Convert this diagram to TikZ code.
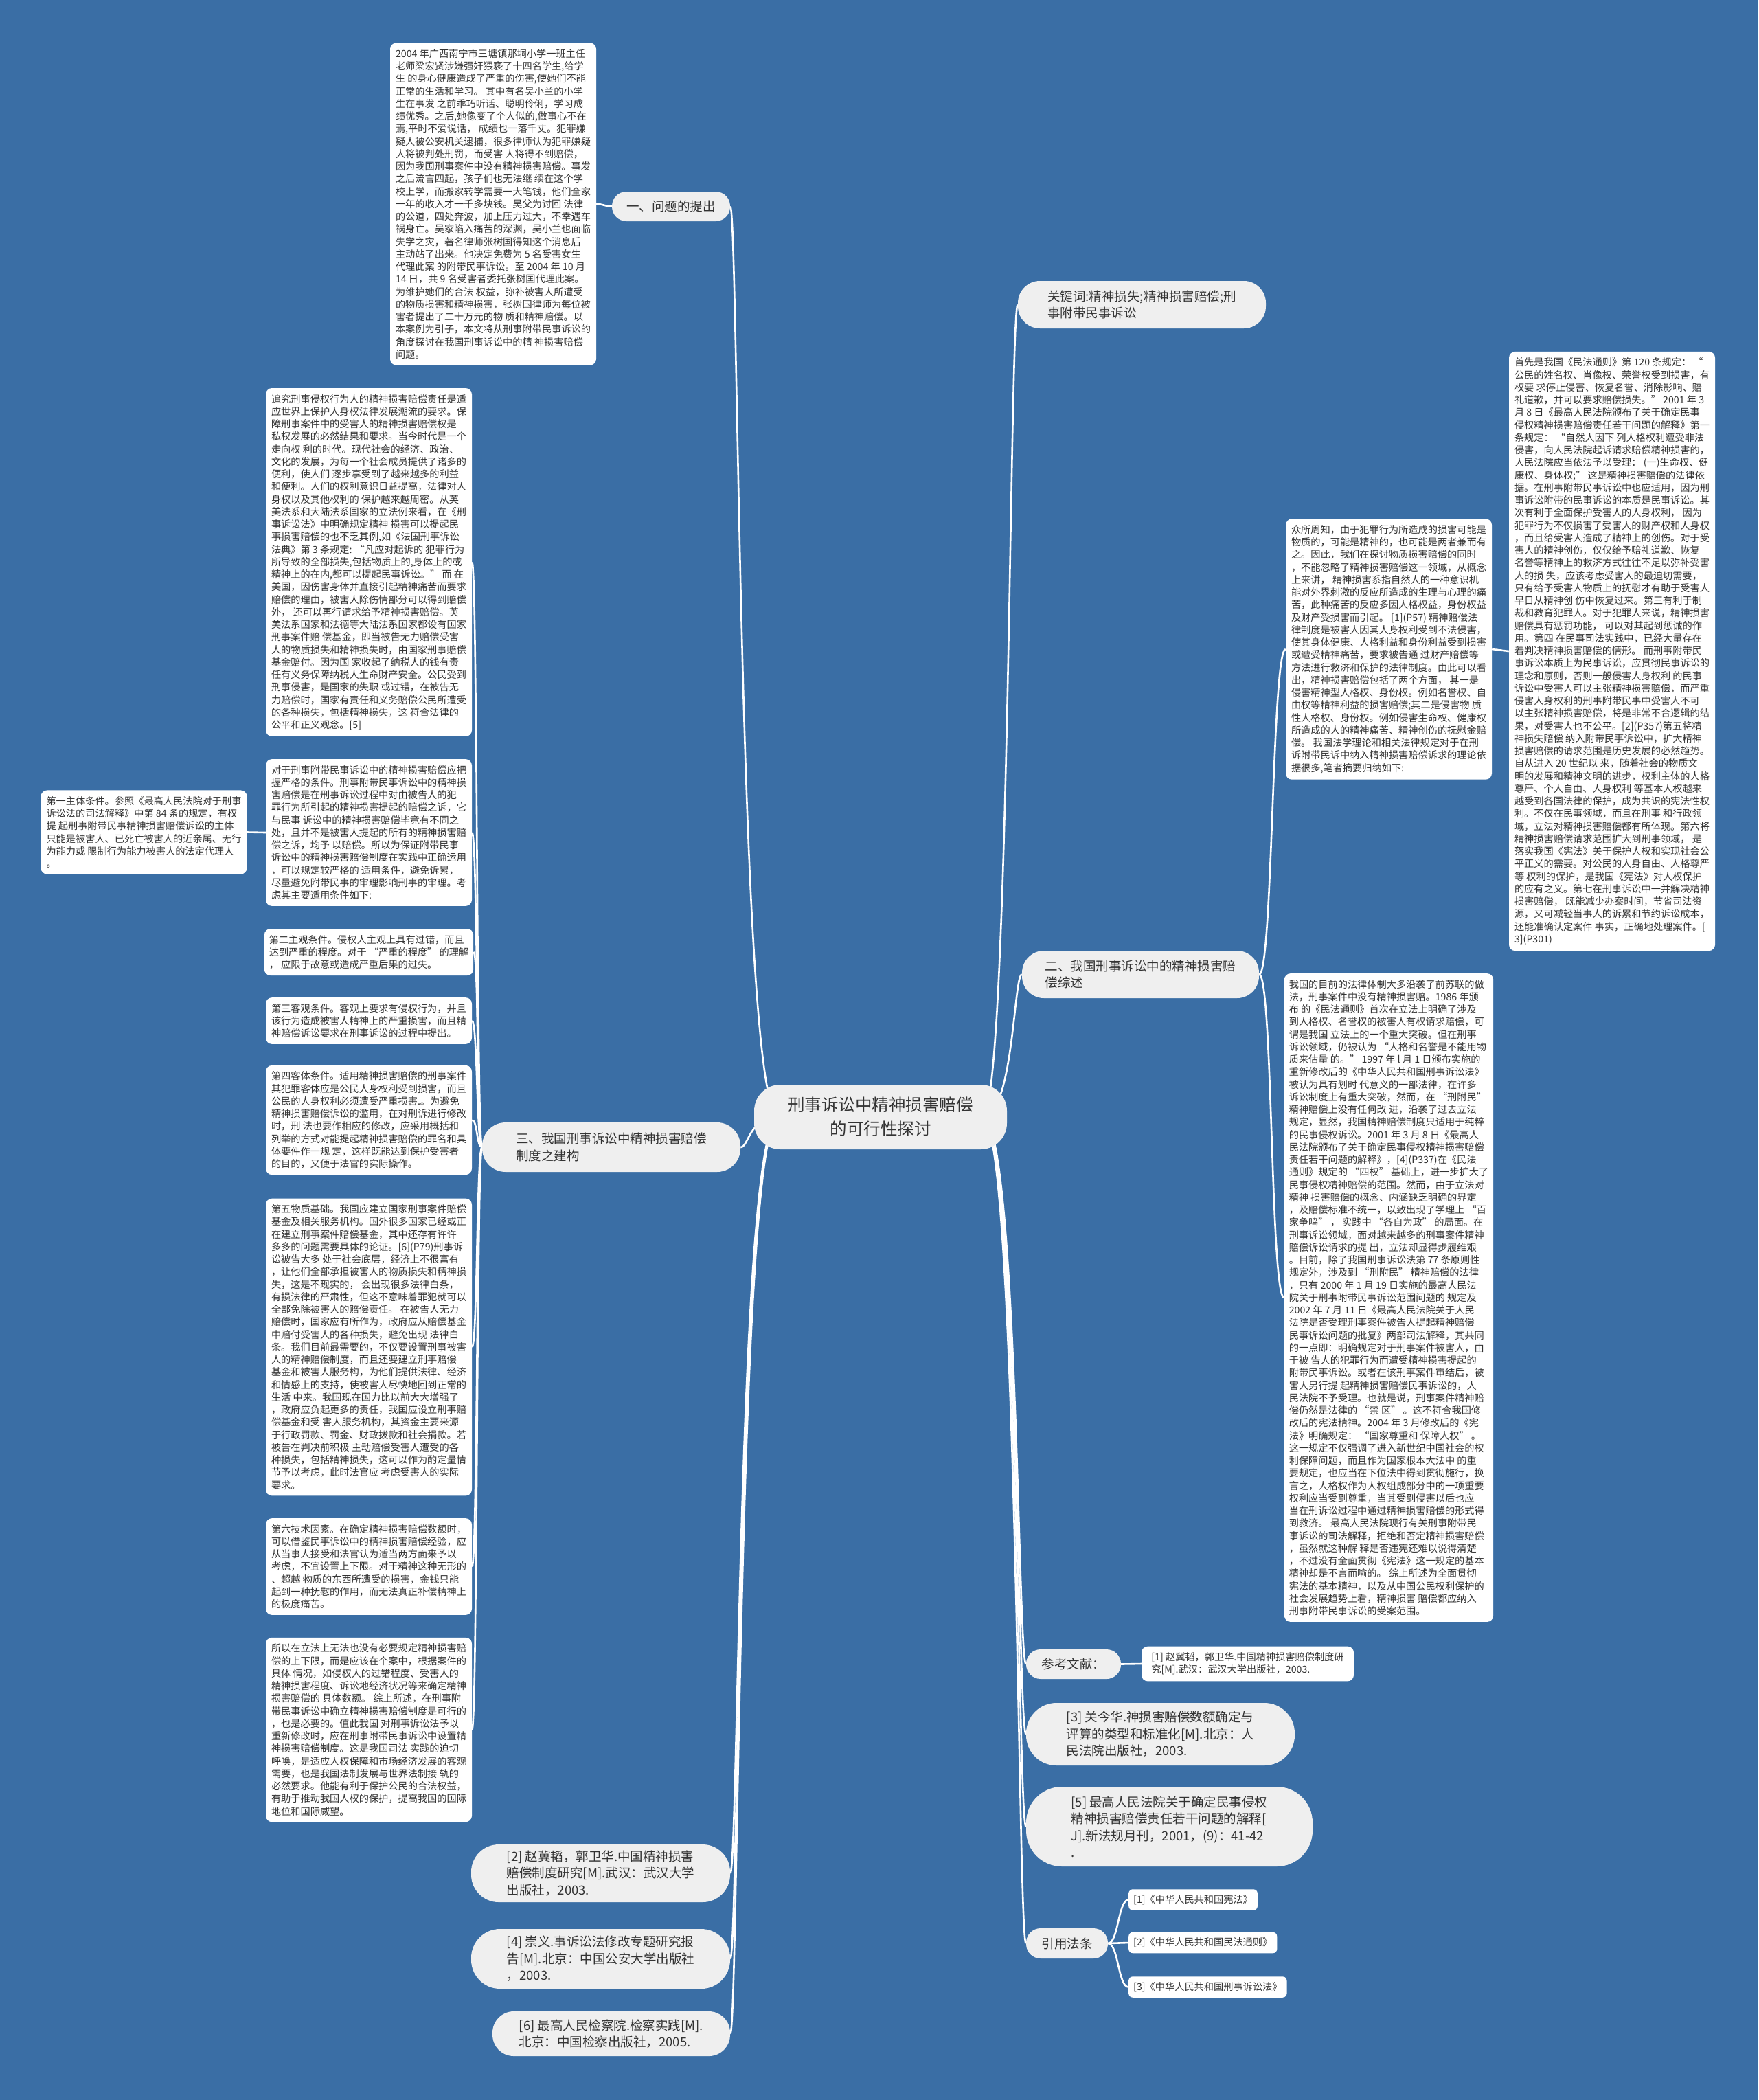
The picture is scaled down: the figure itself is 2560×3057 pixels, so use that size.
\documentclass[tikz,border=0pt]{standalone}
\usepackage{fontspec}
\setmainfont{Noto Sans CJK SC}
\usetikzlibrary{calc}
\definecolor{bgblue}{HTML}{3A6EA5}
\definecolor{pill}{HTML}{EFEFEF}
\definecolor{txt}{HTML}{333333}
\pgfdeclarelayer{bg}
\pgfsetlayers{bg,main}
\tikzset{
 conn/.style={draw=white, line width=2.6pt},
 wbox/.style={fill=white, rounded corners=9pt, align=left, inner xsep=7pt, inner ysep=9pt, text=txt, font=\fontsize{14.2}{18.25}\selectfont, minimum width=300pt},
 lawbox/.style={fill=white, rounded corners=6pt, align=left, inner xsep=7pt, inner ysep=8pt, text=txt, font=\fontsize{14.2}{18.25}\selectfont, anchor=west},
 pillnode/.style n args={3}{fill=pill, align=left, text=txt, font=\fontsize{18.5}{24.5}\selectfont, inner sep=0pt, minimum width=#1, minimum height=#2, rounded corners=#3},
 centernode/.style={fill=pill, align=center, text=txt, font=\fontsize{24.5}{35}\selectfont, inner sep=0pt, minimum width=368pt, minimum height=94pt, rounded corners=38pt},
}
\newcommand\mmR[2]{\draw[conn] (#1) .. controls ($(#1 -| #2.west)+(-12,0)$) and ($(#2.west)+(-12,0)$) .. (#2.west);}
\newcommand\mmL[2]{\draw[conn] (#1) .. controls ($(#1 -| #2.east)+(12,0)$) and ($(#2.east)+(12,0)$) .. (#2.east);}
\newcommand\kidR[3]{\draw[conn] (#1.east) .. controls ($(#1.east)+(#3,0)$) and ($(#2.west)+(-#3,0)$) .. (#2.west);}
\newcommand\kidL[3]{\draw[conn] (#1.west) .. controls ($(#1.west)+(-#3,0)$) and ($(#2.east)+(#3,0)$) .. (#2.east);}
\begin{document}
\begin{tikzpicture}[x=1pt,y=-1pt]
\useasboundingbox (0,0) rectangle (2560,3057);
% centre
\node[centernode] (C) at (1282,1626) {刑事诉讼中精神损害赔偿\\的可行性探讨};
\coordinate (cR) at (1430,1626);
\coordinate (cL) at (1134,1626);
% branches
\node[pillnode={172pt}{43pt}{21pt}] (B1) at (977,300.5) {一、问题的提出};
\node[pillnode={361pt}{69pt}{32pt}] (B2) at (1662.5,443.5) {关键词:精神损失;精神损害赔偿;刑\\事附带民事诉讼};
\node[pillnode={345pt}{69pt}{32pt}] (B3) at (1660.5,1418.5) {二、我国刑事诉讼中的精神损害赔\\偿综述};
\node[pillnode={376pt}{72pt}{34pt}] (B4) at (890,1670) {三、我国刑事诉讼中精神损害赔偿\\制度之建构};
\node[pillnode={138pt}{43pt}{21pt}] (B5) at (1563,2422.5) {参考文献：};
\node[pillnode={391pt}{91pt}{44pt}] (B6) at (1689.5,2524.5) {[3] 关今华.神损害赔偿数额确定与\\评算的类型和标准化[M].北京：人\\民法院出版社，2003.};
\node[pillnode={417pt}{116pt}{52pt}] (B7) at (1702.5,2659) {[5] 最高人民法院关于确定民事侵权\\精神损害赔偿责任若干问题的解释[\\J].新法规月刊，2001，(9)：41-42\\.};
\node[pillnode={119pt}{44pt}{21pt}] (B8) at (1553.5,2829) {引用法条};
\node[pillnode={377pt}{84pt}{40pt}] (B9) at (874.5,2727) {[2] 赵冀韬，郭卫华.中国精神损害\\赔偿制度研究[M].武汉：武汉大学\\出版社，2003.};
\node[pillnode={377pt}{87pt}{42pt}] (B10) at (874.5,2851.5) {[4] 崇义.事诉讼法修改专题研究报\\告[M].北京：中国公安大学出版社\\，2003.};
\node[pillnode={346pt}{65pt}{31pt}] (B11) at (890,2960.5) {[6] 最高人民检察院.检察实践[M].\\北京：中国检察出版社，2005.};
% top box
\node[wbox] (Q1) at (718,297) {2004 年广西南宁市三塘镇那垌小学一班主任\\
老师梁宏贤涉嫌强奸猥亵了十四名学生,给学\\
生 的身心健康造成了严重的伤害,使她们不能\\
正常的生活和学习。 其中有名吴小兰的小学\\
生在事发 之前乖巧听话、聪明伶俐，学习成\\
绩优秀。之后,她像变了个人似的,做事心不在\\
焉,平时不爱说话， 成绩也一落千丈。犯罪嫌\\
疑人被公安机关逮捕，很多律师认为犯罪嫌疑\\
人将被判处刑罚，而受害 人将得不到赔偿，\\
因为我国刑事案件中没有精神损害赔偿。事发\\
之后流言四起，孩子们也无法继 续在这个学\\
校上学，而搬家转学需要一大笔钱，他们全家\\
一年的收入才一千多块钱。吴父为讨回 法律\\
的公道，四处奔波，加上压力过大，不幸遇车\\
祸身亡。吴家陷入痛苦的深渊，吴小兰也面临\\
失学之灾，著名律师张树国得知这个消息后\\
主动站了出来。他决定免费为 5 名受害女生\\
代理此案 的附带民事诉讼。至 2004 年 10 月\\
14 日，共 9 名受害者委托张树国代理此案。\\
为维护她们的合法 权益，弥补被害人所遭受\\
的物质损害和精神损害，张树国律师为每位被\\
害者提出了二十万元的物 质和精神赔偿。以\\
本案例为引子，本文将从刑事附带民事诉讼的\\
角度探讨在我国刑事诉讼中的精 神损害赔偿\\
问题。};
% left boxes
\node[wbox] (L1) at (537,818.5) {追究刑事侵权行为人的精神损害赔偿责任是适\\
应世界上保护人身权法律发展潮流的要求。保\\
障刑事案件中的受害人的精神损害赔偿权是\\
私权发展的必然结果和要求。当今时代是一个\\
走向权 利的时代。现代社会的经济、政治、\\
文化的发展，为每一个社会成员提供了诸多的\\
便利，使人们 逐步享受到了越来越多的利益\\
和便利。人们的权利意识日益提高，法律对人\\
身权以及其他权利的 保护越来越周密。从英\\
美法系和大陆法系国家的立法例来看，在《刑\\
事诉讼法》中明确规定精神 损害可以提起民\\
事损害赔偿的也不乏其例,如《法国刑事诉讼\\
法典》第 3 条规定: “凡应对起诉的 犯罪行为\\
所导致的全部损失,包括物质上的,身体上的或\\
精神上的在内,都可以提起民事诉讼。” 而 在\\
美国，因伤害身体并直接引起精神痛苦而要求\\
赔偿的理由，被害人除伤情部分可以得到赔偿\\
外， 还可以再行请求给予精神损害赔偿。英\\
美法系国家和法德等大陆法系国家都设有国家\\
刑事案件赔 偿基金，即当被告无力赔偿受害\\
人的物质损失和精神损失时，由国家刑事赔偿\\
基金赔付。因为国 家收起了纳税人的钱有责\\
任有义务保障纳税人生命财产安全。公民受到\\
刑事侵害，是国家的失职 或过错，在被告无\\
力赔偿时，国家有责任和义务赔偿公民所遭受\\
的各种损失，包括精神损失，这 符合法律的\\
公平和正义观念。[5]};
\node[wbox] (L2) at (537,1212) {对于刑事附带民事诉讼中的精神损害赔偿应把\\
握严格的条件。刑事附带民事诉讼中的精神损\\
害赔偿是在刑事诉讼过程中对由被告人的犯\\
罪行为所引起的精神损害提起的赔偿之诉，它\\
与民事 诉讼中的精神损害赔偿毕竟有不同之\\
处，且并不是被害人提起的所有的精神损害赔\\
偿之诉，均予 以赔偿。所以为保证附带民事\\
诉讼中的精神损害赔偿制度在实践中正确运用\\
，可以规定较严格的 适用条件，避免诉累，\\
尽量避免附带民事的审理影响刑事的审理。考\\
虑其主要适用条件如下:};
\node[wbox] (FL) at (209.5,1211.5) {第一主体条件。参照《最高人民法院对于刑事\\
诉讼法的司法解释》中第 84 条的规定，有权\\
提 起刑事附带民事精神损害赔偿诉讼的主体\\
只能是被害人、已死亡被害人的近亲属、无行\\
为能力或 限制行为能力被害人的法定代理人\\
。};
\node[wbox] (L3) at (537,1386) {第二主观条件。侵权人主观上具有过错，而且\\
达到严重的程度。对于 “严重的程度” 的理解\\
， 应限于故意或造成严重后果的过失。};
\node[wbox] (L4) at (537,1486) {第三客观条件。客观上要求有侵权行为，并且\\
该行为造成被害人精神上的严重损害，而且精\\
神赔偿诉讼要求在刑事诉讼的过程中提出。};
\node[wbox] (L5) at (537,1630.5) {第四客体条件。适用精神损害赔偿的刑事案件\\
其犯罪客体应是公民人身权利受到损害，而且\\
公民的人身权利必须遭受严重损害.。为避免\\
精神损害赔偿诉讼的滥用，在对刑诉进行修改\\
时，刑 法也要作相应的修改，应采用概括和\\
列举的方式对能提起精神损害赔偿的罪名和具\\
体要件作一规 定，这样既能达到保护受害者\\
的目的，又便于法官的实际操作。};
\node[wbox] (L6) at (537,1961) {第五物质基础。我国应建立国家刑事案件赔偿\\
基金及相关服务机构。国外很多国家已经或正\\
在建立刑事案件赔偿基金，其中还存有许许\\
多多的问题需要具体的论证。[6](P79)刑事诉\\
讼被告大多 处于社会底层，经济上不很富有\\
，让他们全部承担被害人的物质损失和精神损\\
失，这是不现实的， 会出现很多法律白条，\\
有损法律的严肃性，但这不意味着罪犯就可以\\
全部免除被害人的赔偿责任。 在被告人无力\\
赔偿时，国家应有所作为，政府应从赔偿基金\\
中赔付受害人的各种损失，避免出现 法律白\\
条。我们目前最需要的，不仅要设置刑事被害\\
人的精神赔偿制度，而且还要建立刑事赔偿\\
基金和被害人服务构，为他们提供法律、经济\\
和情感上的支持，使被害人尽快地回到正常的\\
生活 中来。我国现在国力比以前大大增强了\\
，政府应负起更多的责任，我国应设立刑事赔\\
偿基金和受 害人服务机构，其资金主要来源\\
于行政罚款、罚金、财政拨款和社会捐款。若\\
被告在判决前积极 主动赔偿受害人遭受的各\\
种损失，包括精神损失，这可以作为酌定量情\\
节予以考虑，此时法官应 考虑受害人的实际\\
要求。};
\node[wbox] (L7) at (537,2280.5) {第六技术因素。在确定精神损害赔偿数额时，\\
可以借鉴民事诉讼中的精神损害赔偿经验，应\\
从当事人接受和法官认为适当两方面来予以\\
考虑，不宜设置上下限。对于精神这种无形的\\
、超越 物质的东西所遭受的损害，金钱只能\\
起到一种抚慰的作用，而无法真正补偿精神上\\
的极度痛苦。};
\node[wbox] (L8) at (537,2518) {所以在立法上无法也没有必要规定精神损害赔\\
偿的上下限，而是应该在个案中，根据案件的\\
具体 情况，如侵权人的过错程度、受害人的\\
精神损害程度、诉讼地经济状况等来确定精神\\
损害赔偿的 具体数额。 综上所述，在刑事附\\
带民事诉讼中确立精神损害赔偿制度是可行的\\
，也是必要的。值此我国 对刑事诉讼法予以\\
重新修改时，应在刑事附带民事诉讼中设置精\\
神损害赔偿制度。这是我国司法 实践的迫切\\
呼唤，是适应人权保障和市场经济发展的客观\\
需要，也是我国法制发展与世界法制接 轨的\\
必然要求。他能有利于保护公民的合法权益，\\
有助于推动我国人权的保护，提高我国的国际\\
地位和国际威望。};
% right boxes
\node[wbox] (RM) at (2022,945) {众所周知，由于犯罪行为所造成的损害可能是\\
物质的，可能是精神的，也可能是两者兼而有\\
之。因此，我们在探讨物质损害赔偿的同时\\
，不能忽略了精神损害赔偿这一领域，从概念\\
上来讲， 精神损害系指自然人的一种意识机\\
能对外界刺激的反应所造成的生理与心理的痛\\
苦，此种痛苦的反应多因人格权益，身份权益\\
及财产受损害而引起。 [1](P57) 精神赔偿法\\
律制度是被害人因其人身权利受到不法侵害，\\
使其身体健康、人格利益和身份利益受到损害\\
或遭受精神痛苦，要求被告通 过财产赔偿等\\
方法进行救济和保护的法律制度。由此可以看\\
出，精神损害赔偿包括了两个方面， 其一是\\
侵害精神型人格权、身份权。例如名誉权、自\\
由权等精神利益的损害赔偿;其二是侵害物 质\\
性人格权、身份权。例如侵害生命权、健康权\\
所造成的人的精神痛苦、精神创伤的抚慰金赔\\
偿。 我国法学理论和相关法律规定对于在刑\\
诉附带民诉中纳入精神损害赔偿诉求的理论依\\
据很多,笔者摘要归纳如下:};
\node[wbox] (FR) at (2347,948) {首先是我国《民法通则》第 120 条规定： “\\
公民的姓名权、肖像权、荣誉权受到损害，有\\
权要 求停止侵害、恢复名誉、消除影响、赔\\
礼道歉，并可以要求赔偿损失。” 2001 年 3\\
月 8 日《最高人民法院颁布了关于确定民事\\
侵权精神损害赔偿责任若干问题的解释》第一\\
条规定： “自然人因下 列人格权利遭受非法\\
侵害，向人民法院起诉请求赔偿精神损害的，\\
人民法院应当依法予以受理： (一)生命权、健\\
康权、身体权;” 这是精神损害赔偿的法律依\\
据。在刑事附带民事诉讼中也应适用，因为刑\\
事诉讼附带的民事诉讼的本质是民事诉讼。其\\
次有利于全面保护受害人的人身权利， 因为\\
犯罪行为不仅损害了受害人的财产权和人身权\\
，而且给受害人造成了精神上的创伤。对于受\\
害人的精神创伤，仅仅给予赔礼道歉、恢复\\
名誉等精神上的救济方式往往不足以弥补受害\\
人的损 失，应该考虑受害人的最迫切需要，\\
只有给予受害人物质上的抚慰才有助于受害人\\
早日从精神创 伤中恢复过来。第三有利于制\\
裁和教育犯罪人。对于犯罪人来说，精神损害\\
赔偿具有惩罚功能， 可以对其起到惩诫的作\\
用。第四 在民事司法实践中，已经大量存在\\
着判决精神损害赔偿的情形。 而刑事附带民\\
事诉讼本质上为民事诉讼，应贯彻民事诉讼的\\
理念和原则，否则一般侵害人身权利 的民事\\
诉讼中受害人可以主张精神损害赔偿，而严重\\
侵害人身权利的刑事附带民事中受害人不可\\
以主张精神损害赔偿，将是非常不合逻辑的结\\
果，对受害人也不公平。[2](P357)第五将精\\
神损失赔偿 纳入附带民事诉讼中，扩大精神\\
损害赔偿的请求范围是历史发展的必然趋势。\\
自从进入 20 世纪以 来，随着社会的物质文\\
明的发展和精神文明的进步，权利主体的人格\\
尊严、个人自由、人身权利 等基本人权越来\\
越受到各国法律的保护，成为共识的宪法性权\\
利。不仅在民事领域，而且在刑事 和行政领\\
域，立法对精神损害赔偿都有所体现。第六将\\
精神损害赔偿请求范围扩大到刑事领域， 是\\
落实我国《宪法》关于保护人权和实现社会公\\
平正义的需要。对公民的人身自由、人格尊严\\
等 权利的保护，是我国《宪法》对人权保护\\
的应有之义。第七在刑事诉讼中一并解决精神\\
损害赔偿， 既能减少办案时间，节省司法资\\
源，又可减轻当事人的诉累和节约诉讼成本，\\
还能准确认定案件 事实，正确地处理案件。[\\
3](P301)};
\node[wbox] (RL) at (2022,1889) {我国的目前的法律体制大多沿袭了前苏联的做\\
法，刑事案件中没有精神损害赔。1986 年颁\\
布 的《民法通则》首次在立法上明确了涉及\\
到人格权、名誉权的被害人有权请求赔偿，可\\
谓是我国 立法上的一个重大突破。但在刑事\\
诉讼领域，仍被认为 “人格和名誉是不能用物\\
质来估量 的。” 1997 年 l 月 1 日颁布实施的\\
重新修改后的《中华人民共和国刑事诉讼法》\\
被认为具有划时 代意义的一部法律，在许多\\
诉讼制度上有重大突破，然而，在 “刑附民”\\
精神赔偿上没有任何改 进，沿袭了过去立法\\
规定，显然，我国精神赔偿制度只适用于纯粹\\
的民事侵权诉讼。2001 年 3 月 8 日《最高人\\
民法院颁布了关于确定民事侵权精神损害赔偿\\
责任若干问题的解释》，[4](P337)在《民法\\
通则》规定的 “四权” 基础上，进一步扩大了\\
民事侵权精神赔偿的范围。然而，由于立法对\\
精神 损害赔偿的概念、内涵缺乏明确的界定\\
，及赔偿标准不统一，以致出现了学理上 “百\\
家争鸣” ， 实践中 “各自为政” 的局面。在\\
刑事诉讼领域，面对越来越多的刑事案件精神\\
赔偿诉讼请求的提 出，立法却显得步履维艰\\
。目前，除了我国刑事诉讼法第 77 条原则性\\
规定外，涉及到 “刑附民” 精神赔偿的法律\\
，只有 2000 年 1 月 19 日实施的最高人民法\\
院关于刑事附带民事诉讼范围问题的 规定及\\
2002 年 7 月 11 日《最高人民法院关于人民\\
法院是否受理刑事案件被告人提起精神赔偿\\
民事诉讼问题的批复》两部司法解释，其共同\\
的一点即：明确规定对于刑事案件被害人，由\\
于被 告人的犯罪行为而遭受精神损害提起的\\
附带民事诉讼。或者在该刑事案件审结后，被\\
害人另行提 起精神损害赔偿民事诉讼的，人\\
民法院不予受理。也就是说，刑事案件精神赔\\
偿仍然是法律的 “禁 区” 。这不符合我国修\\
改后的宪法精神。2004 年 3 月修改后的《宪\\
法》明确规定： “国家尊重和 保障人权” 。\\
这一规定不仅强调了进入新世纪中国社会的权\\
利保障问题，而且作为国家根本大法中 的重\\
要规定，也应当在下位法中得到贯彻施行，换\\
言之，人格权作为人权组成部分中的一项重要\\
权利应当受到尊重，当其受到侵害以后也应\\
当在刑诉讼过程中通过精神损害赔偿的形式得\\
到救济。 最高人民法院现行有关刑事附带民\\
事诉讼的司法解释，拒绝和否定精神损害赔偿\\
，虽然就这种解 释是否违宪还难以说得清楚\\
，不过没有全面贯彻《宪法》这一规定的基本\\
精神却是不言而喻的。 综上所述为全面贯彻\\
宪法的基本精神，以及从中国公民权利保护的\\
社会发展趋势上看，精神损害 赔偿都应纳入\\
刑事附带民事诉讼的受案范围。};
% references
\node[wbox, minimum width=309pt] (R1) at (1816.5,2422) {[1] 赵冀韬，郭卫华.中国精神损害赔偿制度研\\究[M].武汉：武汉大学出版社，2003.};
\node[lawbox] (F1) at (1643,2765.5) {[1]《中华人民共和国宪法》};
\node[lawbox] (F2) at (1643,2828) {[2]《中华人民共和国民法通则》};
\node[lawbox] (F3) at (1643,2892.5) {[3]《中华人民共和国刑事诉讼法》};
% connectors
\begin{pgfonlayer}{bg}
\fill[bgblue] (0,0) rectangle (2560,3057);
\mmR{cR}{B2}
\mmR{cR}{B3}
\mmR{cR}{B5}
\mmR{cR}{B6}
\mmR{cR}{B7}
\mmR{cR}{B8}
\mmL{cL}{B1}
\mmL{cL}{B4}
\mmL{cL}{B9}
\mmL{cL}{B10}
\mmL{cL}{B11}
\kidL{B1}{Q1}{10}
\kidR{B3}{RM}{20}
\kidR{B3}{RL}{20}
\draw[conn] (RM.east) -- (FR.west);
\foreach \n in {L1,L2,L3,L4,L5,L6,L7,L8} {\kidL{B4}{\n}{8}}
\draw[conn] (L2.west) -- (FL.east);
\draw[conn] (B5.east) -- (R1.west);
\kidR{B8}{F1}{15}
\kidR{B8}{F2}{15}
\kidR{B8}{F3}{15}
\end{pgfonlayer}
\end{tikzpicture}
\end{document}
